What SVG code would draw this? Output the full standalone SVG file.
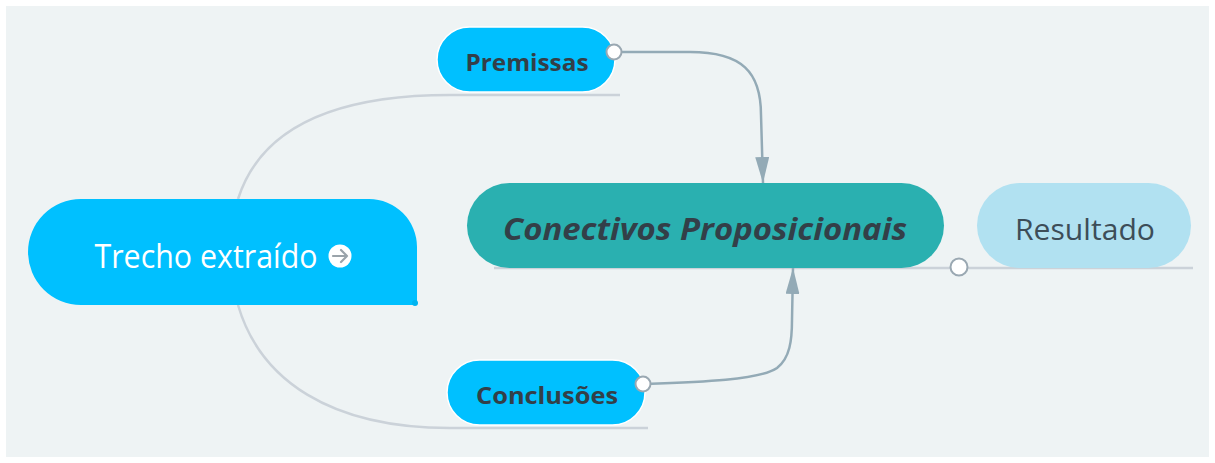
<svg xmlns="http://www.w3.org/2000/svg" width="1215" height="463" viewBox="0 0 1215 463">
<defs>
<style>
.branch{fill:none;stroke:#cbd2d9;stroke-width:2.5}
.rel{fill:none;stroke:#93aab6;stroke-width:2.5}
.knob{fill:#ffffff;stroke:#9aa8b2;stroke-width:2}
.lbl{font-family:"Segoe UI","Open Sans","Noto Sans",sans-serif;text-anchor:middle}
.dark{fill:#333f48;font-weight:bold}
</style>
<marker id="arr" viewBox="0 0 26 14" refX="26" refY="7" markerWidth="26" markerHeight="14" markerUnits="userSpaceOnUse" orient="auto">
<path d="M0,0 L26,7 L0,14 Z" fill="#93aab6"/>
</marker>
</defs>
<rect x="0" y="0" width="1215" height="463" fill="#ffffff"/>
<rect x="6" y="6" width="1203" height="451" fill="#eef3f4"/>
<g id="connectors">
<path class="branch" d="M238,199 C260,130 330,95 450,95 H620"/>
<path class="branch" d="M238,305 C260,380 330,428 450,428 H648"/>
<path class="branch" d="M494,268 H1193"/>
<path class="rel" d="M614,52 H690 C742,52 761,72 761,115 L763,183" marker-end="url(#arr)"/>
<path class="rel" d="M643,384 C700,382 760,380 777,368 C790,358 792,340 792,320 L793,268" marker-end="url(#arr)"/>
</g>
<g id="trecho">
<path d="M81,199 H369 A48,48 0 0 1 417,247 V305 H81 A53,53 0 0 1 81,199 Z" fill="#00c0ff"/>
<circle cx="415" cy="303" r="3" fill="#00b4f0"/>
<text class="lbl" x="206" y="268" font-size="33" fill="#ffffff" textLength="223" lengthAdjust="spacingAndGlyphs">Trecho extraído</text>
<circle cx="340" cy="256" r="11.5" fill="#ffffff"/>
<path d="M333,256 H347 M341,250 L347,256 L341,262" fill="none" stroke="#9aa3aa" stroke-width="2.2" stroke-linecap="round" stroke-linejoin="round"/>
</g>
<g id="premissas">
<rect x="437" y="27" width="178" height="65" rx="32.5" fill="#00c0ff" stroke="#ffffff" stroke-width="1.5"/>
<text class="lbl dark" x="527" y="71" font-size="24" textLength="123" lengthAdjust="spacingAndGlyphs">Premissas</text>
<circle class="knob" cx="614" cy="52" r="7.5"/>
</g>
<g id="conclusoes">
<rect x="447" y="360" width="198" height="65" rx="32.5" fill="#00c0ff" stroke="#ffffff" stroke-width="1.5"/>
<text class="lbl dark" x="547" y="404" font-size="24" textLength="142" lengthAdjust="spacingAndGlyphs">Conclusões</text>
<circle class="knob" cx="643" cy="384" r="7.5"/>
</g>
<g id="conectivos">
<rect x="467" y="183" width="477" height="85" rx="42.5" fill="#2ab0b0"/>
<text class="lbl dark" x="705" y="240" font-size="31" font-style="italic" textLength="404" lengthAdjust="spacingAndGlyphs">Conectivos Proposicionais</text>
<circle class="knob" cx="959" cy="267" r="8.5"/>
</g>
<g id="resultado">
<rect x="977" y="183" width="214" height="85" rx="42.5" fill="#b1e1f1"/>
<text class="lbl" x="1085" y="240" font-size="30" fill="#3d4d58" textLength="140" lengthAdjust="spacingAndGlyphs">Resultado</text>
</g>
</svg>
